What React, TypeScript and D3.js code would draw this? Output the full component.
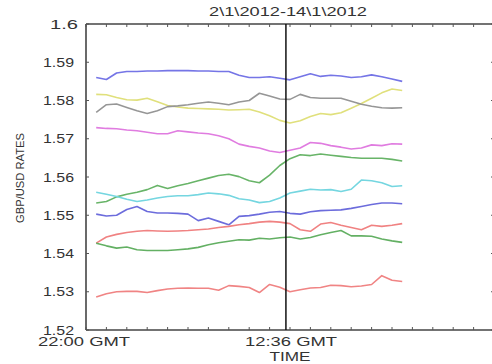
import * as d3 from "d3";

const WIDTH = 492;
const HEIGHT = 364;
const MARGIN = { top: 24, right: -2, bottom: 34, left: 86 };

const TITLE = "2\\1\\2012-14\\1\\2012";
const Y_TICKS = [1.52, 1.53, 1.54, 1.55, 1.56, 1.57, 1.58, 1.59, 1.6];
const X_LABELS = [
  { at: 0, text: "22:00 GMT" },
  { at: 10, text: "12:36 GMT" },
];
const MARKER_AT = 9.8; // vertical line position (tick units)

// sample positions in tick units (one x tick ≈ 87 min)
const SAMPLE_X = d3.range(31).map((i) => 0.5 + i * 0.5);

const blueTop = [1.586, 1.5855, 1.5872, 1.5876, 1.5876, 1.5877, 1.5877, 1.5878, 1.5878, 1.5878, 1.5877, 1.5877, 1.5876, 1.5876, 1.5866, 1.586, 1.586, 1.5862, 1.5858, 1.5854, 1.5862, 1.587, 1.5863, 1.5866, 1.5864, 1.586, 1.5862, 1.5867, 1.5862, 1.5856, 1.585];
const yellow = [1.5816, 1.5815, 1.5808, 1.5802, 1.5801, 1.5806, 1.5797, 1.5787, 1.5783, 1.578, 1.5779, 1.5778, 1.5777, 1.5775, 1.5776, 1.5777, 1.577, 1.576, 1.5748, 1.5741, 1.5747, 1.5758, 1.5766, 1.5763, 1.5768, 1.578, 1.5792, 1.5806, 1.582, 1.583, 1.5826];
const grey = [1.5769, 1.5789, 1.5791, 1.5782, 1.5773, 1.5766, 1.5773, 1.5784, 1.5786, 1.5789, 1.5793, 1.5796, 1.5793, 1.5789, 1.5796, 1.58, 1.5819, 1.5812, 1.5804, 1.5803, 1.5816, 1.5808, 1.5806, 1.5806, 1.5806, 1.5798, 1.579, 1.5785, 1.5781, 1.578, 1.5781];
const magenta = [1.5729, 1.5727, 1.5726, 1.5723, 1.5721, 1.5717, 1.5713, 1.5713, 1.5721, 1.5718, 1.5715, 1.5713, 1.5708, 1.57, 1.5686, 1.568, 1.5676, 1.5668, 1.5664, 1.567, 1.5676, 1.569, 1.5688, 1.5682, 1.5678, 1.5673, 1.5676, 1.5684, 1.5682, 1.5687, 1.5686];
const greenTop = [1.5532, 1.5536, 1.5548, 1.5555, 1.556, 1.5567, 1.5578, 1.557, 1.5577, 1.5583, 1.559, 1.5597, 1.5604, 1.5607, 1.5601, 1.559, 1.5585, 1.5605, 1.563, 1.5648, 1.5658, 1.5656, 1.566, 1.5657, 1.5654, 1.5651, 1.5649, 1.5649, 1.5649, 1.5646, 1.5642];
const cyan = [1.556, 1.5555, 1.5549, 1.5542, 1.5536, 1.554, 1.5545, 1.5549, 1.5551, 1.5551, 1.5554, 1.5558, 1.5556, 1.5552, 1.5543, 1.554, 1.5533, 1.5536, 1.5545, 1.5558, 1.5563, 1.5568, 1.5566, 1.5567, 1.5562, 1.5568, 1.5592, 1.559, 1.5585, 1.5575, 1.5577];
const blueLow = [1.5503, 1.5498, 1.55, 1.5515, 1.5523, 1.551, 1.5506, 1.5506, 1.5505, 1.5503, 1.5486, 1.5493, 1.5484, 1.5475, 1.5497, 1.5499, 1.5503, 1.5508, 1.551, 1.5505, 1.5503, 1.5509, 1.5512, 1.5513, 1.5514, 1.5518, 1.5523, 1.5528, 1.5532, 1.5532, 1.553];
const redMid = [1.5427, 1.5443, 1.545, 1.5455, 1.5458, 1.546, 1.5459, 1.5458, 1.5459, 1.546, 1.5462, 1.5464, 1.5468, 1.5471, 1.5475, 1.5478, 1.5482, 1.5484, 1.5482, 1.5478, 1.5462, 1.5458, 1.5477, 1.5481, 1.5474, 1.5468, 1.5462, 1.5474, 1.5471, 1.5474, 1.5478];
const greenLow = [1.5427, 1.542, 1.5414, 1.5417, 1.541, 1.5408, 1.5408, 1.5408, 1.541, 1.5412, 1.5416, 1.5423, 1.5428, 1.5432, 1.5436, 1.5435, 1.544, 1.5438, 1.5441, 1.5443, 1.5438, 1.5442, 1.5449, 1.5455, 1.546, 1.5446, 1.5446, 1.5445, 1.5438, 1.5433, 1.5429];
const redLow = [1.5286, 1.5295, 1.53, 1.5301, 1.5301, 1.5298, 1.5303, 1.5307, 1.5309, 1.531, 1.5309, 1.5309, 1.5304, 1.5316, 1.5314, 1.5311, 1.5298, 1.5319, 1.5312, 1.53, 1.5305, 1.531, 1.5311, 1.5317, 1.5316, 1.5313, 1.5315, 1.5319, 1.5342, 1.533, 1.5327];

const SERIES = [
  { values: blueTop, color: "#7474e6" },
  { values: yellow, color: "#e0e07c" },
  { values: grey, color: "#969696" },
  { values: magenta, color: "#e07ce0" },
  { values: greenTop, color: "#68b468" },
  { values: cyan, color: "#74d6e0" },
  { values: blueLow, color: "#6c6cdc" },
  { values: redMid, color: "#f08282" },
  { values: greenLow, color: "#64b064" },
  { values: redLow, color: "#f08484" },
];

const FONT = "Liberation Sans, Arial, sans-serif";

// the original image is stretched sideways, so text is widened to fit
function WideText({ x, y, width, anchor = "middle", size = 12.5, children, ...rest }: any) {
  return (
    <text
      x={x}
      y={y}
      textAnchor={anchor}
      fontSize={size}
      fill="#333"
      textLength={width}
      lengthAdjust="spacingAndGlyphs"
      {...rest}
    >
      {children}
    </text>
  );
}

export default function App() {
  const x = d3
    .scaleLinear()
    .domain([0, 20])
    .range([MARGIN.left, WIDTH - MARGIN.right]);
  const y = d3
    .scaleLinear()
    .domain([1.52, 1.6])
    .range([HEIGHT - MARGIN.bottom, MARGIN.top]);

  const line = d3
    .line<number>()
    .x((_, i) => x(SAMPLE_X[i]))
    .y((d) => y(d))
    .curve(d3.curveLinear);

  const x0 = x(0);
  const x1 = x(20);
  const yTop = y(1.6);
  const yBot = y(1.52);
  const xTicks = d3.range(0, 21);
  const fmt = d3.format("~g");

  return (
    <svg
      width={WIDTH}
      height={HEIGHT}
      style={{ position: "absolute", left: 0, top: 0, background: "#fff" }}
      fontFamily={FONT}
    >
      <defs>
        <filter id="soft" x="-5%" y="-5%" width="110%" height="110%">
          <feGaussianBlur stdDeviation="0.35" />
        </filter>
      </defs>

      <WideText x={288} y={16} width={158} size={12.5}>
        {TITLE}
      </WideText>

      {/* series */}
      <g filter="url(#soft)">
        {SERIES.map((s, i) => (
          <path
            key={i}
            d={line(s.values) ?? ""}
            fill="none"
            stroke={s.color}
            strokeWidth={1.6}
            strokeLinejoin="round"
          />
        ))}
      </g>

      {/* frame */}
      <g stroke="#444" strokeWidth={1.6} fill="none">
        <line x1={x0} x2={x0} y1={yTop} y2={yBot} />
        <line x1={x0} x2={x1} y1={yTop} y2={yTop} />
        <line x1={x0} x2={x1} y1={yBot} y2={yBot} />
        <line x1={x1} x2={x1} y1={yTop} y2={yBot} />
      </g>

      {/* ticks, all sides, pointing inward */}
      <g stroke="#555" strokeWidth={1}>
        {xTicks.map((t) => (
          <g key={t}>
            <line x1={x(t)} x2={x(t)} y1={yTop} y2={yTop + 3} />
            <line x1={x(t)} x2={x(t)} y1={yBot} y2={yBot - 3} />
          </g>
        ))}
        {Y_TICKS.map((t) => (
          <g key={t}>
            <line x1={x0} x2={x0 + 3} y1={y(t)} y2={y(t)} />
            <line x1={x1} x2={x1 - 3} y1={y(t)} y2={y(t)} />
          </g>
        ))}
      </g>

      {/* marker line */}
      <line
        x1={x(MARKER_AT)}
        x2={x(MARKER_AT)}
        y1={yTop}
        y2={yBot}
        stroke="#111"
        strokeWidth={1.5}
      />

      {/* y tick labels */}
      {Y_TICKS.map((t) => {
        const label = fmt(t);
        return (
          <WideText
            key={t}
            x={label.length > 3 ? 43 : 50}
            y={y(t)}
            dy="0.36em"
            anchor="start"
            width={label.length > 3 ? 31 : 28}
            size={12.5}
          >
            {label}
          </WideText>
        );
      })}

      {/* x labels */}
      {X_LABELS.map((l) => (
        <WideText key={l.text} x={x(l.at) + (l.at === 0 ? -2 : 1)} y={346} width={92} size={13}>
          {l.text}
        </WideText>
      ))}
      <WideText x={290} y={361} width={41} size={12}>
        TIME
      </WideText>

      <text
        transform={`translate(24,${178}) rotate(-90)`}
        textAnchor="middle"
        fontSize={11}
        fill="#333"
        textLength={90}
        lengthAdjust="spacingAndGlyphs"
      >
        GBP/USD RATES
      </text>
    </svg>
  );
}
